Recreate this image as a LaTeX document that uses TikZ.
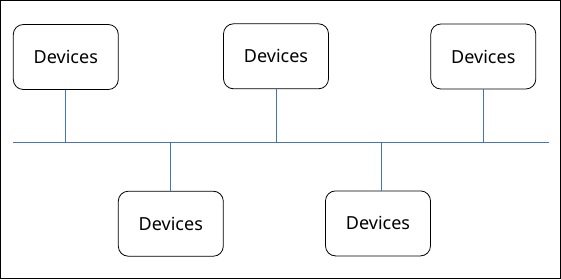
\documentclass[tikz,border=0pt]{standalone}
\usepackage{fontspec}
\setmainfont{Noto Sans}
\definecolor{busblue}{HTML}{4472C4}
\begin{document}
\begin{tikzpicture}[x=1pt,y=-1pt,
  devbox/.style={draw=black,line width=0.8pt,rounded corners=10pt,minimum width=105pt,minimum height=65pt,inner sep=0pt,font=\fontsize{18}{21}\selectfont},
  busline/.style={draw=busblue,line width=0.9pt}]
\draw[black,line width=1.2pt] (0.6,0.6) rectangle (560.4,278.4);
\useasboundingbox (0,0) rectangle (561,279);
\node[devbox] (d1) at (65.8,57) {Devices};
\node[devbox] (d2) at (276,56.3) {Devices};
\node[devbox] (d3) at (483.3,56.5) {Devices};
\node[devbox] (d4) at (170.8,223.7) {Devices};
\node[devbox] (d5) at (378,223.4) {Devices};
\coordinate (busL) at (13,142.3);
\coordinate (busR) at (548.5,142.3);
\draw[busline] (busL) -- (busR);
\draw[busline] (d1.south) -- (d1.south |- busL);
\draw[busline] (d2.south) -- (d2.south |- busL);
\draw[busline] (d3.south) -- (d3.south |- busL);
\draw[busline] (d4.north) -- (d4.north |- busL);
\draw[busline] ([xshift=3.5pt]d5.north) -- ([xshift=3.5pt]d5.north |- busL);
\end{tikzpicture}
\end{document}
